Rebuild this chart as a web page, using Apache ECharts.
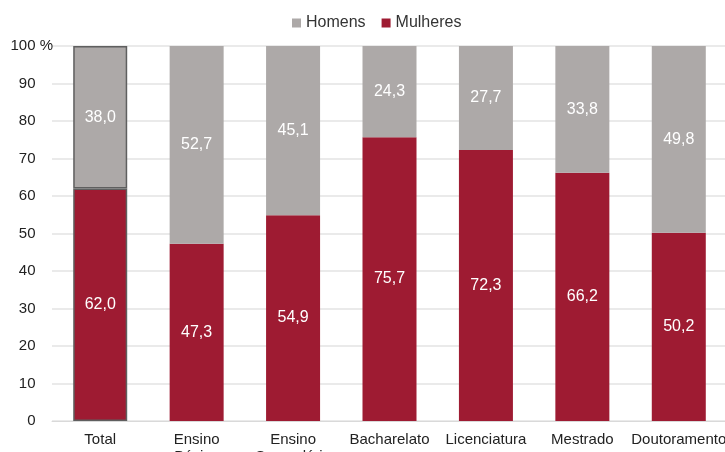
<!DOCTYPE html>
<html>
<head>
<meta charset="utf-8">
<script src="https://cdn.jsdelivr.net/npm/echarts@6/dist/echarts.min.js"></script>
<style>
  html, body { margin: 0; padding: 0; background: #fff; }
  #chart { width: 725px; height: 452px; }
</style>
</head>
<body>
<div id="chart"></div>
<script>
const categories = ["Total", "Ensino Básico", "Ensino Secundário", "Bacharelato", "Licenciatura", "Mestrado", "Doutoramento"];
const mulheres = [62.0, 47.3, 54.9, 75.7, 72.3, 66.2, 50.2];
const homens = [38.0, 52.7, 45.1, 24.3, 27.7, 33.8, 49.8];
const yTicks = [0, 10, 20, 30, 40, 50, 60, 70, 80, 90, 100];

const FONT = "Liberation Sans, Arial, sans-serif";
const RED = "#9E1B32";
const GREY = "#ADA9A8";

const fmt = v => v.toFixed(1).replace(".", ",");

// first bar (Total) gets a dark outline
const withBorder = arr => arr.map((v, i) => i === 0
  ? { value: v, itemStyle: { borderColor: "#5f5f5f", borderWidth: 1.5 } }
  : v);

const chart = echarts.init(document.getElementById("chart"));

chart.setOption({
  animation: false,
  textStyle: { fontFamily: FONT },
  legend: {
    top: 10,
    left: 287,
    itemWidth: 9,
    itemHeight: 9,
    itemGap: 16,
    itemTextGap: 3,
    icon: "rect",
    textStyle: { fontSize: 16, color: "#333", fontFamily: FONT },
    data: ["Homens", "Mulheres"]
  },
  grid: { left: 52, right: -2, top: 46, bottom: 31, outerBoundsMode: "none", containLabel: false },
  xAxis: {
    type: "category",
    data: categories,
    axisLine: { show: true, lineStyle: { color: "#d9d9d9", width: 1 } },
    axisTick: { show: false },
    axisLabel: {
      interval: 0,
      margin: 10,
      fontSize: 15,
      color: "#222",
      lineHeight: 17,
      formatter: v => v.replace("Ensino ", "Ensino\n")
    }
  },
  yAxis: {
    type: "value",
    min: yTicks[0],
    max: yTicks[yTicks.length - 1],
    interval: 10,
    axisLine: { show: false },
    axisTick: { show: false },
    splitLine: { lineStyle: { color: "#e3e3e3", width: 1.5 } },
    axisLabel: {
      fontSize: 15,
      color: "#222",
      margin: -1,
      // "%" only on the top tick; others keep an invisible one so numbers line up
      formatter: v => v === 100 ? "100{p| %}" : v + "{h| %}",
      rich: {
        p: { fontSize: 15, color: "#222" },
        h: { fontSize: 15, color: "rgba(0,0,0,0)" }
      }
    }
  },
  series: [
    {
      name: "Mulheres",
      type: "bar",
      stack: "s",
      barWidth: 54,
      itemStyle: { color: RED },
      data: withBorder(mulheres),
      label: { show: true, position: "inside", color: "#fff", fontSize: 16, formatter: p => fmt(p.value) }
    },
    {
      name: "Homens",
      type: "bar",
      stack: "s",
      barWidth: 54,
      itemStyle: { color: GREY },
      data: withBorder(homens),
      label: { show: true, position: "inside", color: "#fff", fontSize: 16, formatter: p => fmt(p.value) }
    }
  ]
});
</script>
</body>
</html>
